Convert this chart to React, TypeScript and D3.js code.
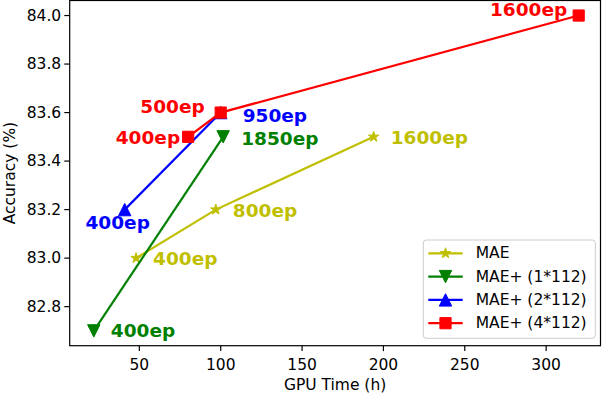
import React, { useRef, useEffect } from 'react';
import * as d3 from 'd3';

// GPU hours / top-1 accuracy
const maeX = [48, 97, 194];
const maeY = [83.0, 83.2, 83.5];
const maeEp = ['400ep', '800ep', '1600ep'];

const mae1X = [22, 101.5];
const mae1Y = [82.7, 83.5];
const mae1Ep = ['400ep', '1850ep'];

const mae2X = [41, 100];
const mae2Y = [83.2, 83.6];
const mae2Ep = ['400ep', '950ep'];

const mae4X = [80, 100, 320];
const mae4Y = [83.5, 83.6, 84.0];
const mae4Ep = ['400ep', '500ep', '1600ep'];

const seriesNames = ['MAE', 'MAE+ (1*112)', 'MAE+ (2*112)', 'MAE+ (4*112)'];
const xTicks = [50, 100, 150, 200, 250, 300];
const yTicks = [82.8, 83.0, 83.2, 83.4, 83.6, 83.8, 84.0];

const FONT = '"DejaVu Sans", sans-serif';

const App = () => {
  const svgRef = useRef<SVGSVGElement>(null);

  useEffect(() => {
    const svg = d3.select(svgRef.current);
    svg.selectAll('*').remove();

    const left = 69.7, right = 600.5, top = 0.5, bottom = 345.7;

    const x = d3.scaleLinear().domain([7.2, 333.4]).range([left, right]);
    const y = d3.scaleLinear().domain([82.639, 84.062]).range([bottom, top]);

    // label offsets in px from each point: [dx, dy, anchor]
    const series = [
      { xs: maeX, ys: maeY, ep: maeEp, color: '#bfbf00', marker: 'star',
        off: [[17, 7, 'start'], [17, 7, 'start'], [17, 7, 'start']] },
      { xs: mae1X, ys: mae1Y, ep: mae1Ep, color: '#008000', marker: 'down',
        off: [[17, 6, 'start'], [18, 8, 'start']] },
      { xs: mae2X, ys: mae2Y, ep: mae2Ep, color: '#0000ff', marker: 'up',
        off: [[-7, 19, 'middle'], [22, 9, 'start']] },
      { xs: mae4X, ys: mae4Y, ep: mae4Ep, color: '#ff0000', marker: 'square',
        off: [[-8, 7, 'end'], [-16, 0, 'end'], [-11.5, 0, 'end']] },
    ];

    const markerPath = (kind: string) => {
      if (kind === 'star') return d3.symbol(d3.symbolStar, 34)();
      if (kind === 'square') return 'M-5.6,-5.6H5.6V5.6H-5.6Z';
      if (kind === 'up') return 'M0,-6.2L6.2,6.2L-6.2,6.2Z';
      return 'M0,6.2L6.2,-6.2L-6.2,-6.2Z';
    };

    const g = svg.append('g');

    // axes frame
    g.append('rect')
      .attr('x', left).attr('y', top)
      .attr('width', right - left).attr('height', bottom - top)
      .attr('fill', 'none').attr('stroke', '#000').attr('stroke-width', 1.2);

    // x ticks
    xTicks.forEach(t => {
      g.append('line')
        .attr('x1', x(t)).attr('x2', x(t))
        .attr('y1', bottom).attr('y2', bottom + 5.4)
        .attr('stroke', '#000').attr('stroke-width', 1.2);
      g.append('text')
        .attr('x', x(t)).attr('y', 370)
        .attr('text-anchor', 'middle')
        .style('font-family', FONT).style('font-size', '15.5px')
        .text(String(t));
    });

    // y ticks
    yTicks.forEach(t => {
      g.append('line')
        .attr('x1', left - 5.4).attr('x2', left)
        .attr('y1', y(t)).attr('y2', y(t))
        .attr('stroke', '#000').attr('stroke-width', 1.2);
      g.append('text')
        .attr('x', left - 8.5).attr('y', y(t))
        .attr('text-anchor', 'end')
        .attr('dominant-baseline', 'central')
        .style('font-family', FONT).style('font-size', '15.5px')
        .text(t.toFixed(1));
    });

    // axis labels
    g.append('text')
      .attr('x', (left + right) / 2).attr('y', 390)
      .attr('text-anchor', 'middle')
      .style('font-family', FONT).style('font-size', '15.5px')
      .text('GPU Time (h)');

    g.append('text')
      .attr('transform', `translate(15,${(top + bottom) / 2}) rotate(-90)`)
      .attr('text-anchor', 'middle')
      .style('font-family', FONT).style('font-size', '15.5px')
      .text('Accuracy (%)');

    const line = d3.line<[number, number]>().x(d => x(d[0])).y(d => y(d[1]));

    series.forEach(s => {
      const pts: [number, number][] = s.xs.map((v, i) => [v, s.ys[i]]);
      g.append('path')
        .attr('d', line(pts))
        .attr('fill', 'none')
        .attr('stroke', s.color)
        .attr('stroke-width', 2.2);
      pts.forEach(p => {
        g.append('path')
          .attr('d', markerPath(s.marker))
          .attr('transform', `translate(${x(p[0])},${y(p[1])})`)
          .attr('fill', s.color)
          .attr('stroke', s.color)
          .attr('stroke-width', 1);
      });
    });

    // epoch annotations
    series.forEach(s => {
      s.xs.forEach((v, i) => {
        const o = s.off[i];
        g.append('text')
          .attr('x', x(v) + (o[0] as number))
          .attr('y', y(s.ys[i]) + (o[1] as number))
          .attr('text-anchor', o[2] as string)
          .attr('fill', s.color)
          .style('font-family', FONT)
          .style('font-size', '18.5px')
          .style('font-weight', 'bold')
          .text(s.ep[i]);
      });
    });

    // legend
    const lg = g.append('g');
    lg.append('rect')
      .attr('x', 423.3).attr('y', 240)
      .attr('width', 172).attr('height', 98.3)
      .attr('rx', 3).attr('ry', 3)
      .attr('fill', 'rgba(255,255,255,0.8)')
      .attr('stroke', '#cccccc').attr('stroke-width', 1);

    series.forEach((s, i) => {
      const ry = 253.3 + i * 23.3;
      lg.append('line')
        .attr('x1', 428.3).attr('x2', 462.7)
        .attr('y1', ry).attr('y2', ry)
        .attr('stroke', s.color).attr('stroke-width', 2.2);
      lg.append('path')
        .attr('d', markerPath(s.marker))
        .attr('transform', `translate(445.5,${ry})`)
        .attr('fill', s.color)
        .attr('stroke', s.color)
        .attr('stroke-width', 1);
      lg.append('text')
        .attr('x', 475.7).attr('y', ry)
        .attr('dominant-baseline', 'central')
        .style('font-family', FONT).style('font-size', '15.5px')
        .text(seriesNames[i]);
    });
  }, []);

  return (
    <svg
      ref={svgRef}
      width={604}
      height={394}
      style={{ position: 'absolute', left: 0, top: 0, background: '#fff' }}
    />
  );
};

export default App;
